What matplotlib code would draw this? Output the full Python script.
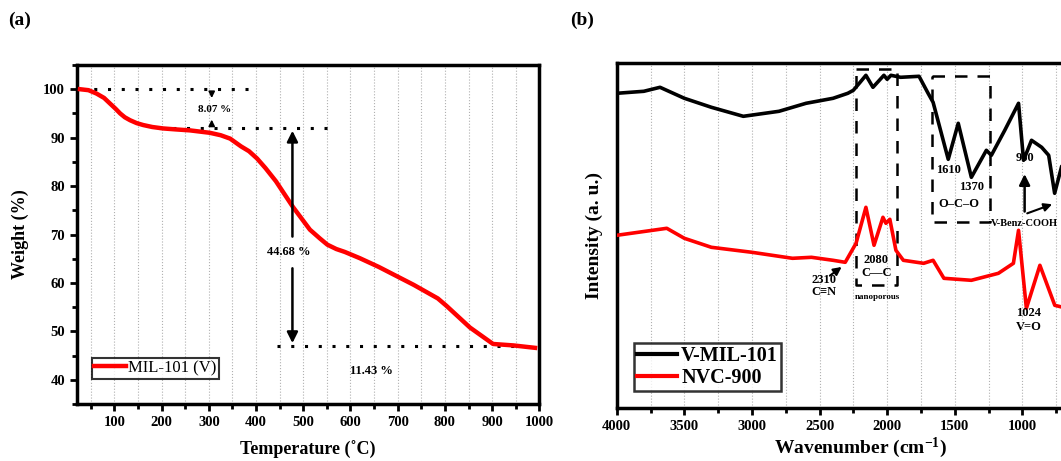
import matplotlib
matplotlib.use("Agg")
import matplotlib.pyplot as plt
from matplotlib.ticker import MultipleLocator

plt.rcParams['font.family'] = ['Liberation Serif', 'DejaVu Serif']
plt.rcParams['font.weight'] = 'bold'
plt.rcParams['axes.labelweight'] = 'bold'
plt.rcParams['mathtext.fontset'] = 'custom'
plt.rcParams['mathtext.rm'] = 'Liberation Serif:bold'
plt.rcParams['mathtext.bf'] = 'Liberation Serif:bold'
plt.rcParams['mathtext.default'] = 'bf'

# (a) TGA of MIL-101 (V)
temp = [27, 45, 62, 78, 91, 102, 112, 122, 133, 147, 161, 180, 203, 230, 260,
        302, 325, 345, 368, 385, 402, 420, 442, 478, 514, 535, 551, 570, 588,
        620, 660, 700, 734, 785, 803, 853, 902, 945, 991]
weight = [100, 99.8, 99.1, 98.2, 97, 96, 95, 94.2, 93.6, 93, 92.6, 92.2, 91.9,
          91.7, 91.5, 91, 90.5, 89.8, 88.2, 87.2, 85.7, 83.7, 81, 75.7, 71,
          69.2, 67.9, 67, 66.4, 65.1, 63.3, 61.3, 59.6, 56.8, 55.3, 50.8, 47.4,
          47.1, 46.6]

# (b) FTIR spectra (intensity in arbitrary units)
wn_black = [4000, 3900, 3800, 3680, 3500, 3300, 3064, 2800, 2600, 2400, 2291,
            2250, 2200, 2157, 2105, 2024, 2000, 1972, 1900, 1764, 1697, 1660,
            1548, 1474, 1377, 1266, 1229, 1130, 1028, 991, 932, 857, 805, 761,
            709, 650, 500]
int_black = [314, 315, 316, 320, 309, 300, 291, 296, 304, 309, 314,
             317, 325, 332, 320, 332, 328, 332, 330, 331, 314, 305,
             248, 284, 230, 257, 252, 277, 304, 247, 267, 260, 252, 214,
             241, 245, 240]
wn_red = [4000, 3630, 3500, 3300, 3000, 2700, 2560, 2400, 2310, 2230, 2157,
          2097, 2031, 2009, 1980, 1935, 1880, 1730, 1660, 1580, 1377, 1177,
          1066, 1028, 970, 870, 760, 700, 500]
int_red = [172, 179, 169, 160, 155, 149, 150, 147, 145, 164, 200,
           162, 190, 184, 188, 157, 147, 144, 147, 129, 127, 134,
           144, 177, 99, 142, 102, 100, 100]
wn_ticks = [4000, 3500, 3000, 2500, 2000, 1500, 1000, 500]

fig = plt.figure(figsize=(10.61, 4.61), dpi=100)

# ---------- panel (a) ----------
ax1 = fig.add_axes([0.0723, 0.1236, 0.436, 0.7354])
ax1.plot(temp, weight, color='#ff0000', lw=3.2, label='MIL-101 (V)', zorder=3)
ax1.set_xlim(20, 1000)
ax1.set_ylim(35, 105)
ax1.xaxis.set_major_locator(MultipleLocator(100))
ax1.xaxis.set_minor_locator(MultipleLocator(50))
ax1.yaxis.set_minor_locator(MultipleLocator(5))
ax1.set_yticks([40, 50, 60, 70, 80, 90, 100])
ax1.grid(True, which='both', axis='x', color='#b0b0b0', ls=':', lw=0.8)
ax1.set_xlabel('Temperature (\u02daC)', fontsize=13, labelpad=9)
ax1.set_ylabel('Weight (%)', fontsize=13, labelpad=10)

dots = (0, (1, 3.5))
ax1.plot([27, 400], [100, 100], color='black', ls=dots, lw=2.2)
ax1.plot([195, 570], [92, 92], color='black', ls=dots, lw=2.2)
ax1.plot([445, 960], [46.9, 46.9], color='black', ls=dots, lw=2.2)

arr = dict(arrowstyle='-|>', color='black', lw=1.2, mutation_scale=9)
ax1.annotate('', xy=(306, 97.6), xytext=(306, 100), arrowprops=arr)
ax1.annotate('', xy=(306, 94.3), xytext=(306, 92), arrowprops=arr)
ax1.text(313, 95.8, '8.07 %', fontsize=8, ha='center', va='center')

arr2 = dict(arrowstyle='-|>', color='black', lw=1.8, mutation_scale=16)
ax1.annotate('', xy=(477, 92), xytext=(477, 69), arrowprops=arr2)
ax1.annotate('', xy=(477, 47), xytext=(477, 63.6), arrowprops=arr2)
ax1.text(470, 66.3, '44.68 %', fontsize=9, ha='center', va='center')
ax1.text(645, 41.9, '11.43 %', fontsize=9, ha='center', va='center')

leg1 = ax1.legend(loc='lower left', bbox_to_anchor=(0.033, 0.075), fontsize=12,
                  frameon=True, fancybox=False, handlelength=1.9,
                  borderpad=0.15, handletextpad=0.1, borderaxespad=0)
leg1.get_frame().set_edgecolor('black')
leg1.get_frame().set_linewidth(1.5)
for t in leg1.get_texts():
    t.set_fontweight('normal')

# ---------- panel (b) ----------
ax2 = fig.add_axes([0.5813, 0.1143, 0.4587, 0.7484])
ax2.plot(wn_black, int_black, color='black', lw=2.6, label='V-MIL-101', zorder=3)
ax2.plot(wn_red, int_red, color='#ff0000', lw=2.6, label='NVC-900', zorder=3)
ax2.set_xlim(4000, 400)
ax2.set_ylim(-1, 344)
ax2.set_xticks(wn_ticks)
ax2.set_xticklabels([str(w) if w >= 1000 else '' for w in wn_ticks])
ax2.xaxis.set_minor_locator(MultipleLocator(250))
ax2.set_yticks([])
ax2.grid(True, which='both', axis='x', color='#b0b0b0', ls=':', lw=0.8)
ax2.set_xlabel('Wavenumber (cm$^{-1}$)', fontsize=14, labelpad=2)
ax2.set_ylabel('Intensity (a. u.)', fontsize=14, labelpad=10)

dash = (0, (5, 4))
bx = [2232, 1927, 1927, 2232, 2232]
by = [338, 338, 122, 122, 338]
ax2.plot(bx, by, color='black', ls=dash, lw=1.8)
bx2 = [1667, 1236, 1236, 1667, 1667]
by2 = [331, 331, 185, 185, 331]
ax2.plot(bx2, by2, color='black', ls=dash, lw=1.8)

fs = 9
ax2.text(1548, 237, '1610', fontsize=fs, ha='center', va='center')
ax2.text(1377, 220, '1370', fontsize=fs, ha='center', va='center')
ax2.text(1467, 203, 'O\u2013C\u2013O', fontsize=fs, ha='center', va='center')
ax2.text(983, 249, '960', fontsize=fs, ha='center', va='center')
ax2.text(723, 212, '760', fontsize=fs, ha='left', va='center')
ax2.text(1229, 184, 'V-Benz-COOH', fontsize=7.5, ha='left', va='center')
ax2.annotate('', xy=(983, 236), xytext=(983, 193), arrowprops=arr2)
ax2.annotate('', xy=(760, 204), xytext=(983, 193),
             arrowprops=dict(arrowstyle='-|>', color='black', lw=1.5, mutation_scale=12))

ax2.text(2470, 127, '2310', fontsize=fs, ha='center', va='center')
ax2.text(2470, 115, 'C\u2261N', fontsize=fs, ha='center', va='center')
ax2.annotate('', xy=(2320, 142), xytext=(2440, 130),
             arrowprops=dict(arrowstyle='-|>', color='black', lw=1.5, mutation_scale=12))
ax2.text(2075, 110, 'nanoporous', fontsize=6.5, ha='center', va='center')
ax2.text(2080, 147, '2080', fontsize=fs, ha='center', va='center')
ax2.text(2080, 134, 'C\u2014C', fontsize=fs, ha='center', va='center')
ax2.text(954, 94, '1024', fontsize=fs, ha='center', va='center')
ax2.text(954, 80, 'V=O', fontsize=fs, ha='center', va='center')

leg2 = ax2.legend(loc='lower left', bbox_to_anchor=(0.035, 0.05), fontsize=14.5,
                  frameon=True, fancybox=False, handlelength=2.0,
                  borderpad=0.15, handletextpad=0.2, labelspacing=0.1,
                  borderaxespad=0)
leg2.get_frame().set_edgecolor('black')
leg2.get_frame().set_linewidth(1.8)
for line in leg2.get_lines():
    line.set_linewidth(3)

for ax in (ax1, ax2):
    for s in ax.spines.values():
        s.set_linewidth(2.5)
    ax.tick_params(which='major', direction='out', length=5, width=2,
                   labelsize=10.5)
    ax.tick_params(which='minor', direction='out', length=3.5, width=2)

fig.text(0.008, 0.955, '(a)', fontsize=14, ha='left', va='center')
fig.text(0.537, 0.955, '(b)', fontsize=14, ha='left', va='center')

fig.savefig('out.png', dpi=100)
